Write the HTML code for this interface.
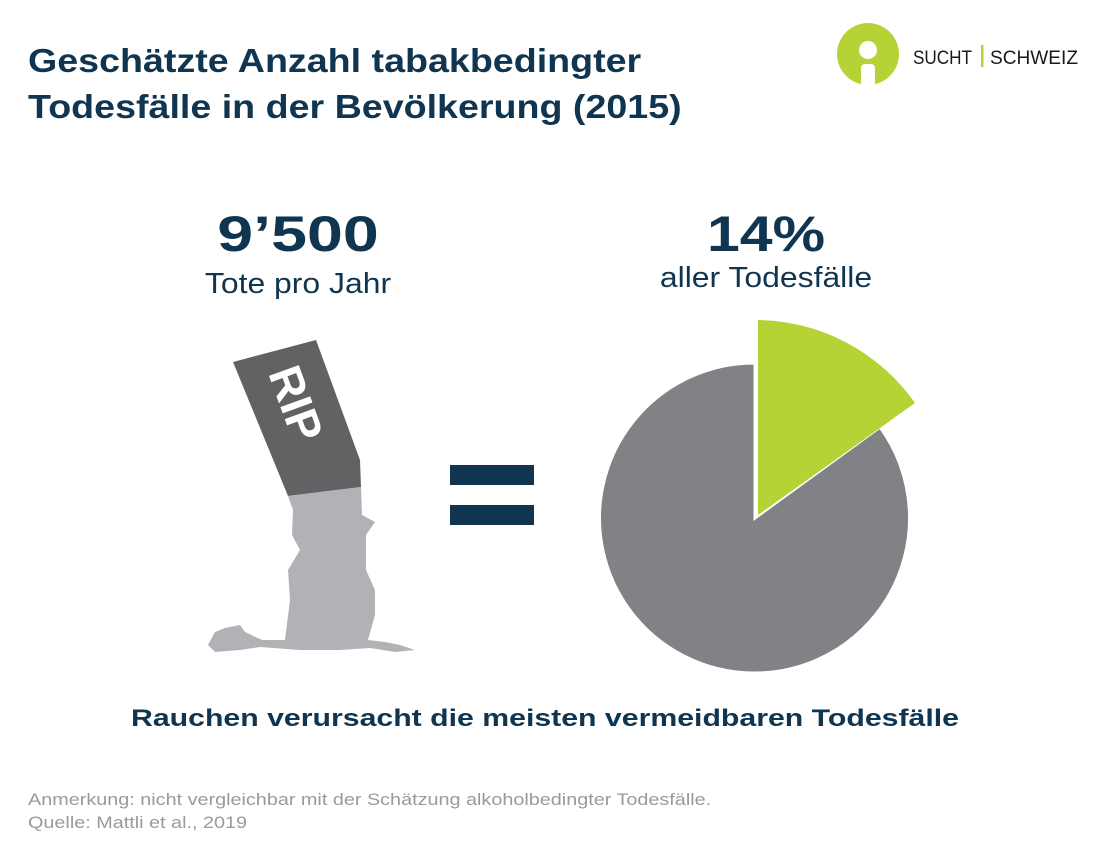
<!DOCTYPE html>
<html><head><meta charset="utf-8"><style>
body{margin:0;width:1098px;height:855px;background:#fff;font-family:"Liberation Sans",sans-serif;position:relative;overflow:hidden}
.t{position:absolute;color:#0f3550;white-space:nowrap}
</style></head><body>
<div class="t" style="left:28px;top:38px;font-size:33px;font-weight:bold;line-height:46px;transform:scaleX(1.14);transform-origin:0 0">Geschätzte Anzahl tabakbedingter<br>Todesfälle in der Bevölkerung (2015)</div>
<svg style="position:absolute;left:0;top:0" width="1098" height="855">
<circle cx="868" cy="54" r="31" fill="#b5d334"/>
<circle cx="868" cy="50" r="9" fill="#fff"/>
<rect x="861" y="64" width="14" height="22" rx="4" fill="#fff"/>
<text x="913" y="64" font-family="Liberation Sans" font-size="19" fill="#1a1a1a" textLength="59" lengthAdjust="spacingAndGlyphs">SUCHT</text>
<rect x="981" y="45" width="2.5" height="22" fill="#b5d334"/>
<text x="990" y="64" font-family="Liberation Sans" font-size="19" fill="#1a1a1a" textLength="88" lengthAdjust="spacingAndGlyphs">SCHWEIZ</text>
<path d="M755,518 L755,363 A155,155 0 1,0 880,427 Z" fill="#818285" stroke="#fff" stroke-width="3"/>
<path d="M758,515 L758,320 A195,195 0 0,1 915,403 Z" fill="#b5d334"/>
<rect x="450" y="465" width="84" height="20" fill="#0f3550"/>
<rect x="450" y="505" width="84" height="20" fill="#0f3550"/>
<polygon points="233,362 316,340 360,460 361,487 288,496" fill="#616264"/>
<text transform="translate(268,373) rotate(70)" font-family="Liberation Sans" font-weight="bold" font-size="46" fill="#fff">RIP</text>
<path d="M288,496 L361,487 L362,515 L375,522 L366,535 L366,570 L375,590 L375,615 L368,640 L385,642 L400,645 L415,650 L395,652 L370,648 L340,650 L300,650 L260,647 L240,650 L215,652 L208,645 L215,632 L225,628 L240,625 L245,632 L262,640 L285,640 L290,600 L288,570 L300,550 L292,535 L293,510 Z" fill="#b1b2b5"/>
</svg>
<div class="t" style="left:298px;top:205px;font-size:50px;font-weight:bold;transform:translateX(-50%) scaleX(1.29)">9’500</div>
<div class="t" style="left:298px;top:268px;font-size:29px;transform:translateX(-50%) scaleX(1.1)">Tote pro Jahr</div>
<div class="t" style="left:766px;top:205px;font-size:50px;font-weight:bold;transform:translateX(-50%) scaleX(1.18)">14%</div>
<div class="t" style="left:766px;top:262px;font-size:29px;transform:translateX(-50%) scaleX(1.1)">aller Todesfälle</div>
<div class="t" style="left:545px;top:705px;font-size:24px;font-weight:bold;transform:translateX(-50%) scaleX(1.26)">Rauchen verursacht die meisten vermeidbaren Todesfälle</div>
<div style="position:absolute;left:28px;top:789px;font-size:16.5px;color:#9a9a9a;line-height:23px;white-space:nowrap;transform:scaleX(1.2);transform-origin:0 0">Anmerkung: nicht vergleichbar mit der Schätzung alkoholbedingter Todesfälle.<br>Quelle: Mattli et al., 2019</div>
</body></html>
